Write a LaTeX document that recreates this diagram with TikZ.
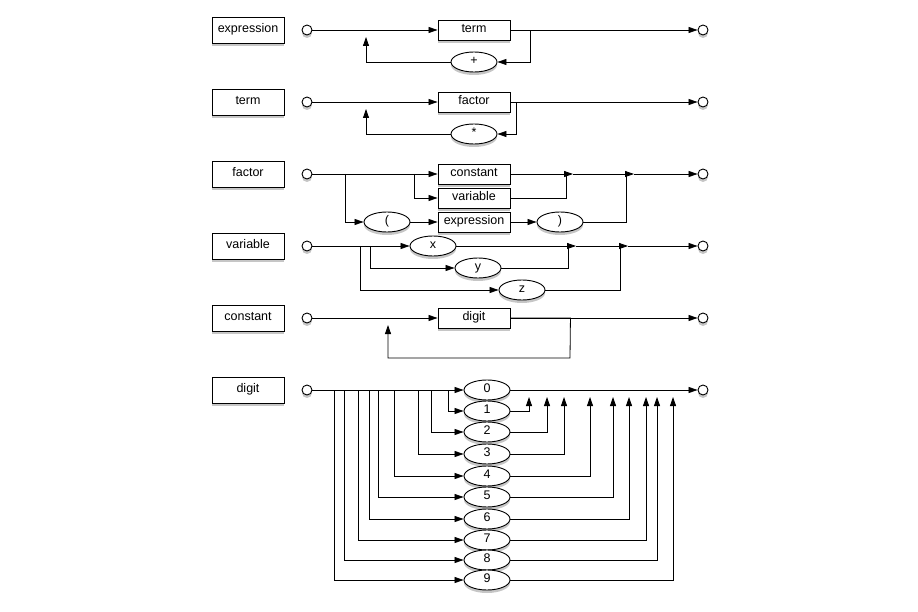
\documentclass[tikz,border=0pt]{standalone}
\usepackage{fontspec}
\setmainfont{Liberation Sans}
\usetikzlibrary{arrows.meta,shapes.geometric,shadows}
\begin{document}
\begin{tikzpicture}[x=1pt,y=-1pt,
  txt/.style={font=\fontsize{12.5}{14}\selectfont,text height=5pt,text depth=0pt},
  sh/.style={fill=white,draw=black,line width=0.9pt,txt,drop shadow={opacity=0.45,shadow xshift=0pt,shadow yshift=-3pt}},
  lbl/.style={sh,minimum width=72pt,minimum height=26pt,inner sep=0pt},
  nt/.style={sh,minimum width=72pt,minimum height=20pt,inner sep=0pt},
  tm/.style={sh,ellipse,minimum width=46pt,minimum height=20pt,inner sep=0pt},
  pt/.style={sh,circle,minimum size=10pt,inner sep=0pt},
  ln/.style={line width=0.8pt},
  ar/.style={ln,-{Triangle[length=9pt,width=6pt]}}]
\useasboundingbox (0,0) rectangle (918,612);
% labels
\foreach \n/\t/\y in {l1/expression/30,l2/term/102,l3/factor/174,l4/variable/246,l5/constant/318,l6/digit/390}{
  \node[lbl] (\n) at (248,\y) {\t};
  \node[pt] (s\n) at (307,\y) {};
  \node[pt] (e\n) at (703,\y) {};
}
% expression
\node[nt] (ta) at (474,30) {term};
\node[tm] (plus) at (474,62) {+};
\draw[ar] (sl1) -- (ta);
\draw[ar] (ta) -- (el1);
\draw[ar] (ta.east) -- ++(20,0) |- (plus);
\draw[ar] (plus) -| (366,37);
% term
\node[nt] (fa) at (474,102) {factor};
\node[tm] (star) at (474,134) {*};
\draw[ar] (sl2) -- (fa);
\draw[ar] (fa) -- (el2);
\draw[ar] (fa.east) -- ++(6,0) |- (star);
\draw[ar] (star) -| (366,109);
% factor
\node[nt] (co) at (474,174) {constant};
\node[nt] (va) at (474,198) {variable};
\node[nt] (ex) at (474,222) {expression};
\node[tm] (lp) at (387,222) {(};
\node[tm] (rp) at (560,222) {)};
\coordinate (f1) at (573,174);
\coordinate (f2) at (634,174);
\draw[ar] (sl3) -- (co);
\draw[ar] (345,174) |- (lp);
\draw[ar] (414,174) |- (va);
\draw[ar] (lp) -- (ex);
\draw[ar] (ex) -- (rp);
\draw[ar] (co) -- (f1);
\draw[ar] (f1) -- (f2);
\draw[ar] (f2) -- (el3);
\draw[ln] (va) -| (566,174);
\draw[ln] (rp) -| (626,174);
% variable
\node[tm] (vx) at (433,246) {x};
\node[tm] (vy) at (478,268) {y};
\node[tm] (vz) at (522,290) {z};
\coordinate (g1) at (576,246);
\coordinate (g2) at (628,246);
\draw[ar] (sl4) -- (vx);
\draw[ar] (370,246) |- (vy);
\draw[ar] (360,246) |- (vz);
\draw[ar] (vx) -- (g1);
\draw[ar] (g1) -- (g2);
\draw[ar] (g2) -- (el4);
\draw[ln] (vy) -| (568,246);
\draw[ln] (vz) -| (620,246);
% constant
\node[nt] (di) at (474,318) {digit};
\draw[ar] (sl5) -- (di);
\draw[ar] (di) -- (el5);
\draw[ar] (di.east) -- ++(60,0) -- (570,358) -| (388,325);
% digit
\node[tm] (d0) at (487,390) {0};
\draw[ar] (sl6) -- (d0);
\draw[ar] (d0) -- (el6);
\foreach \d/\y/\a/\b in {1/411/448/529,2/432/431/547,3/454/418/564,4/476/394/590,5/497/378/613,6/519/369/629,7/540/358/646,8/560/344/657,9/580/334/673}{
  \node[tm] (d\d) at (487,\y) {\d};
  \draw[ar] (\a,390) |- (d\d);
  \draw[ar] (d\d) -| (\b,397);
}
\end{tikzpicture}
\end{document}
